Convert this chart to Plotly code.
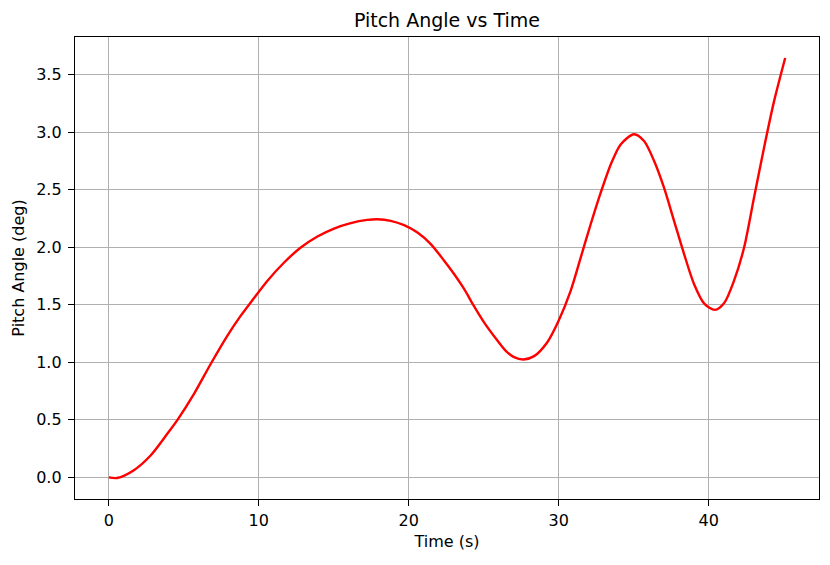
import plotly.graph_objects as go

# values
time_s = [0.0, 0.55, 1.67, 2.8, 3.91, 4.58, 5.69, 6.8, 7.91, 8.8, 9.47,
          10.58, 11.69, 12.8, 13.91, 15.02, 16.13, 17.24, 17.91, 18.8,
          19.69, 20.58, 21.47, 22.36, 23.02, 23.69, 24.29, 25.02, 25.91,
          26.47, 27.02, 27.64, 28.36, 29.24, 30.0, 30.8, 31.47, 32.13,
          32.8, 33.47, 34.13, 35.02, 35.69, 36.36, 37.02, 37.69, 38.36,
          39.02, 39.69, 40.42, 41.02, 41.69, 42.36, 43.02, 43.69, 44.36,
          45.1]
pitch_deg = [0.0, -0.005, 0.063, 0.193, 0.381, 0.5, 0.728, 0.988, 1.233,
             1.406, 1.522, 1.71, 1.868, 1.998, 2.094, 2.163, 2.21, 2.238,
             2.244, 2.23, 2.192, 2.128, 2.028, 1.883, 1.768, 1.638, 1.502,
             1.348, 1.19, 1.1, 1.045, 1.025, 1.054, 1.175, 1.363, 1.623,
             1.912, 2.2, 2.475, 2.72, 2.894, 2.983, 2.923, 2.75, 2.518,
             2.23, 1.941, 1.681, 1.513, 1.456, 1.513, 1.71, 1.998, 2.43,
             2.865, 3.27, 3.645]

x_ticks = [0, 10, 20, 30, 40]
y_ticks = [0.0, 0.5, 1.0, 1.5, 2.0, 2.5, 3.0, 3.5]


def padded(vals, frac=0.05):
    lo, hi = min(vals), max(vals)
    span = hi - lo
    return [lo - frac * span, hi + frac * span]


font = 'DejaVu Sans'

fig = go.Figure(go.Scatter(x=time_s, y=pitch_deg, mode='lines',
                           line=dict(color='red', width=2.4, shape='spline',
                                     smoothing=0.8),
                           showlegend=False))

axis_common = dict(showline=True, linecolor='black', linewidth=1.3,
                   mirror=True, ticks='outside', ticklen=6, tickwidth=1.3,
                   tickcolor='black', showgrid=True, gridcolor='#b0b0b0',
                   gridwidth=1, zeroline=False,
                   tickfont=dict(family=font, size=16, color='black'))

fig.update_layout(
    width=830, height=565,
    margin=dict(l=75, r=11, t=37, b=66, autoexpand=False),
    paper_bgcolor='white', plot_bgcolor='white',
    title=dict(text='Pitch Angle vs Time', x=0.5385, xanchor='center',
               yref='container', y=1 - 20 / 565, yanchor='middle',
               font=dict(family=font, size=19, color='black')),
    xaxis=dict(axis_common, range=padded(time_s), tickvals=x_ticks,
               ticklabelstandoff=1,
               title=dict(text='Time (s)', standoff=6,
                          font=dict(family=font, size=16, color='black'))),
    yaxis=dict(axis_common, range=padded(pitch_deg), tickvals=y_ticks,
               tickformat='.1f', ticklabelstandoff=3,
               title=dict(text='Pitch Angle (deg)', standoff=7,
                          font=dict(family=font, size=16, color='black'))),
)

# the page body has a default 8px margin; drop it so the figure sits at 0,0
fig.write_html('out.html', config={'displayModeBar': False},
               post_script="document.body.style.margin='0';")
